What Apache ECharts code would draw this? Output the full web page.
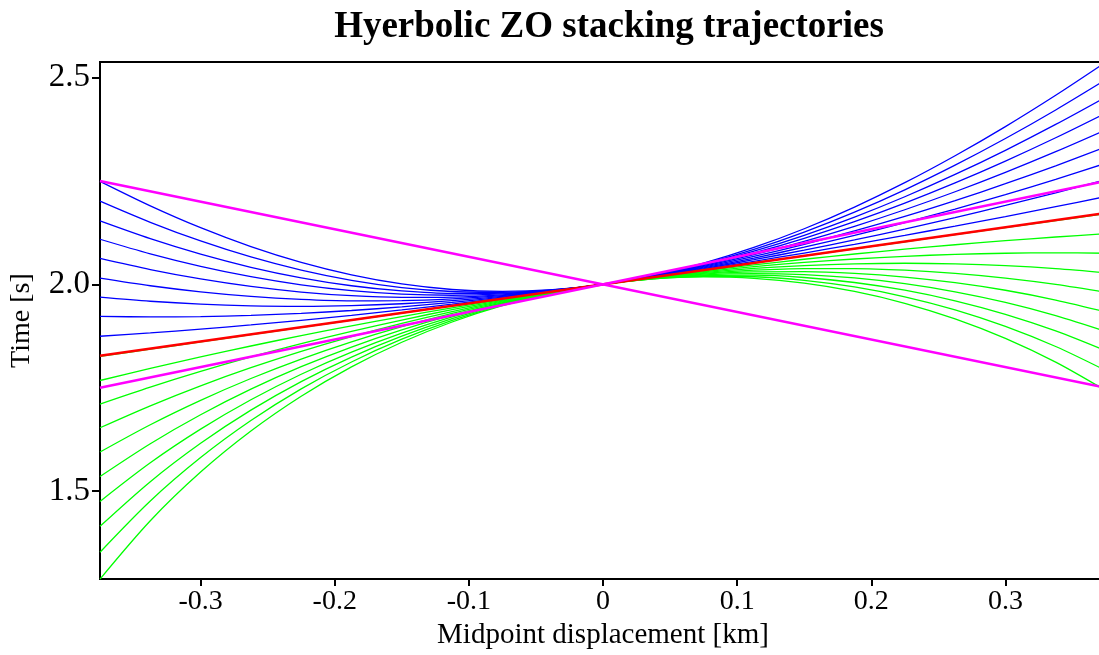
<!DOCTYPE html>
<html><head><meta charset="utf-8">
<script src="https://cdn.jsdelivr.net/npm/echarts@6/dist/echarts.min.js"></script>
<style>html,body{margin:0;padding:0;background:#fff;overflow:hidden}#c{width:1106px;height:655px}</style>
</head><body><div id="c"></div><script>
// midpoint displacement samples [km]
const xs = [-0.375, -0.3375, -0.3, -0.2625, -0.225, -0.1875, -0.15, -0.1125, -0.075, -0.0375, 0,
            0.0375, 0.075, 0.1125, 0.15, 0.1875, 0.225, 0.2625, 0.3, 0.3375, 0.375];

// blue trajectories (time [s] at each xs)
const blue1 = [1.8746, 1.8826, 1.8917, 1.9018, 1.9130, 1.9251, 1.9382, 1.9523, 1.9673, 1.9832, 2, 2.0177, 2.0362, 2.0556, 2.0757, 2.0967, 2.1184, 2.1408, 2.1639, 2.1878, 2.2123];
const blue2 = [1.9224, 1.9213, 1.9222, 1.9251, 1.9300, 1.9368, 1.9457, 1.9565, 1.9691, 1.9836, 2, 2.0181, 2.0380, 2.0595, 2.0827, 2.1075, 2.1337, 2.1615, 2.1906, 2.2211, 2.2529];
const blue3 = [1.9690, 1.9591, 1.9521, 1.9480, 1.9468, 1.9485, 1.9531, 1.9606, 1.9710, 1.9841, 2, 2.0186, 2.0398, 2.0635, 2.0897, 2.1182, 2.1490, 2.1819, 2.2169, 2.2539, 2.2928];
const blue4 = [2.0149, 1.9966, 1.9819, 1.9709, 1.9637, 1.9602, 1.9606, 1.9648, 1.9728, 1.9846, 2, 2.0190, 2.0416, 2.0675, 2.0967, 2.1290, 2.1642, 2.2024, 2.2432, 2.2865, 2.3323];
const blue5 = [2.0625, 2.0356, 2.0130, 1.9949, 1.9814, 1.9725, 1.9685, 1.9692, 1.9748, 1.9851, 2, 2.0195, 2.0435, 2.0717, 2.1040, 2.1403, 2.1803, 2.2238, 2.2707, 2.3207, 2.3736];
const blue6 = [2.1090, 2.0738, 2.0436, 2.0186, 1.9989, 1.9848, 1.9764, 1.9737, 1.9768, 1.9855, 2, 2.0200, 2.0454, 2.0759, 2.1114, 2.1516, 2.1963, 2.2451, 2.2979, 2.3543, 2.4141];
const blue7 = [2.1532, 2.1103, 2.0729, 2.0413, 2.0158, 1.9966, 1.9840, 1.9780, 1.9787, 1.9860, 2, 2.0205, 2.0472, 2.0800, 2.1185, 2.1625, 2.2117, 2.2656, 2.3240, 2.3865, 2.4528];
const blue8 = [2.2010, 2.1499, 2.1048, 2.0661, 2.0343, 2.0096, 1.9923, 1.9827, 1.9808, 1.9865, 2, 2.0210, 2.0493, 2.0845, 2.1264, 2.1745, 2.2285, 2.2880, 2.3524, 2.4215, 2.4949];
const blue9 = [2.2490, 2.1898, 2.1370, 2.0913, 2.0531, 2.0229, 2.0009, 1.9875, 1.9829, 1.9871, 2, 2.0215, 2.0513, 2.0891, 2.1344, 2.1868, 2.2457, 2.3108, 2.3813, 2.4570, 2.5374];

// green trajectories
const green1 = [1.8257, 1.8434, 1.8609, 1.8784, 1.8959, 1.9133, 1.9307, 1.9481, 1.9654, 1.9827, 2, 2.0172, 2.0344, 2.0516, 2.0688, 2.0859, 2.1030, 2.1200, 2.1370, 2.1541, 2.1710];
const green2 = [1.7676, 1.7969, 1.8246, 1.8510, 1.8760, 1.8996, 1.9221, 1.9433, 1.9633, 1.9822, 2, 2.0167, 2.0324, 2.0470, 2.0607, 2.0733, 2.0850, 2.0957, 2.1055, 2.1144, 2.1224];
const green3 = [1.7106, 1.7516, 1.7895, 1.8246, 1.8568, 1.8866, 1.9138, 1.9387, 1.9613, 1.9817, 2, 2.0162, 2.0304, 2.0427, 2.0530, 2.0613, 2.0678, 2.0724, 2.0752, 2.0761, 2.0752];
const green4 = [1.6534, 1.7065, 1.7548, 1.7985, 1.8381, 1.8737, 1.9057, 1.9342, 1.9593, 1.9812, 2, 2.0157, 2.0285, 2.0384, 2.0454, 2.0496, 2.0510, 2.0495, 2.0453, 2.0382, 2.0282];
const green5 = [1.5947, 1.6607, 1.7196, 1.7724, 1.8193, 1.8610, 1.8977, 1.9298, 1.9574, 1.9807, 2, 2.0153, 2.0267, 2.0342, 2.0380, 2.0380, 2.0342, 2.0266, 2.0152, 2.0000, 1.9807];
const green6 = [1.5356, 1.6149, 1.6849, 1.7466, 1.8009, 1.8485, 1.8899, 1.9254, 1.9555, 1.9803, 2, 2.0148, 2.0248, 2.0301, 2.0307, 2.0266, 2.0177, 2.0041, 1.9857, 1.9621, 1.9334];
const green7 = [1.4754, 1.5688, 1.6501, 1.7210, 1.7827, 1.8362, 1.8822, 1.9212, 1.9536, 1.9798, 2, 2.0144, 2.0231, 2.0261, 2.0235, 2.0154, 2.0015, 1.9818, 1.9562, 1.9243, 1.8859];
const green8 = [1.4151, 1.5231, 1.6159, 1.6960, 1.7650, 1.8243, 1.8748, 1.9171, 1.9518, 1.9794, 2, 2.0139, 2.0213, 2.0222, 2.0166, 2.0045, 1.9858, 1.9602, 1.9275, 1.8873, 1.8391];
const green9 = [1.3526, 1.4764, 1.5813, 1.6708, 1.7473, 1.8124, 1.8674, 1.9131, 1.9500, 1.9789, 2, 2.0135, 2.0196, 2.0184, 2.0098, 1.9937, 1.9700, 1.9384, 1.8985, 1.8498, 1.7915];
const green10 = [1.2876, 1.4286, 1.5462, 1.6454, 1.7295, 1.8005, 1.8600, 1.9090, 1.9483, 1.9785, 2, 2.0131, 2.0179, 2.0145, 2.0029, 1.9829, 1.9543, 1.9166, 1.8694, 1.8119, 1.7429];

// red (straight) trajectory and magenta straight limits, end points
const lineX = [-0.375, 0.375];
const redLine = [1.8275, 2.1725];
const magentaRise = [1.75, 2.25];
const magentaFall = [2.25, 1.75];

// axes
const xMin = -0.375, xMax = 0.375;
const yMin = 1.2876, yMax = 2.5374;
const xTicks = [-0.3, -0.2, -0.1, 0, 0.1, 0.2, 0.3];
const xTickLabels = ['-0.3', '-0.2', '-0.1', '0', '0.1', '0.2', '0.3'];
const yTicks = [1.5, 2.0, 2.5];
const yTickLabels = ['1.5', '2.0', '2.5'];

const blueCurves = [blue1, blue2, blue3, blue4, blue5, blue6, blue7, blue8, blue9];
const greenCurves = [green1, green2, green3, green4, green5, green6, green7, green8, green9, green10];

const FONT = 'Liberation Serif';
const pairs = (xv, yv) => xv.map((x, i) => [x, yv[i]]);
const labelFor = (ticks, labels) => v => {
  let best = 0;
  ticks.forEach((t, i) => { if (Math.abs(t - v) < Math.abs(ticks[best] - v)) best = i; });
  return labels[best];
};

const series = [];
blueCurves.forEach((c, i) => series.push({
  type: 'line', name: 'blue' + (i + 1), data: pairs(xs, c), smooth: 0.3, showSymbol: false, symbol: 'none',
  lineStyle: { color: '#0000ff', width: 1.3 }, z: 2
}));
greenCurves.forEach((c, i) => series.push({
  type: 'line', name: 'green' + (i + 1), data: pairs(xs, c), smooth: 0.3, showSymbol: false, symbol: 'none',
  lineStyle: { color: '#00ff00', width: 1.3 }, z: 2
}));
series.push({
  type: 'line', name: 'red', data: pairs(lineX, redLine), showSymbol: false, symbol: 'none',
  lineStyle: { color: '#ff0000', width: 2.6 }, z: 3
});
series.push({
  type: 'line', name: 'magenta1', data: pairs(lineX, magentaRise), showSymbol: false, symbol: 'none',
  lineStyle: { color: '#ff00ff', width: 2.6 }, z: 4
});
series.push({
  type: 'line', name: 'magenta2', data: pairs(lineX, magentaFall), showSymbol: false, symbol: 'none',
  lineStyle: { color: '#ff00ff', width: 2.6 }, z: 4
});

const chart = echarts.init(document.getElementById('c'), null, { renderer: 'canvas' });
chart.setOption({
  animation: false,
  backgroundColor: '#fff',
  title: {
    text: 'Hyerbolic ZO stacking trajectories',
    left: 604, top: 4, textAlign: 'center',
    textStyle: { fontFamily: FONT, fontWeight: 'bold', fontSize: 37, color: '#000' }
  },
  grid: { left: 100, top: 62, right: 0, bottom: 75, show: true, borderColor: '#000', borderWidth: 2, backgroundColor: 'transparent' },
  xAxis: {
    type: 'value', min: xMin, max: xMax,
    name: 'Midpoint displacement [km]', nameLocation: 'middle', nameGap: 38,
    nameTextStyle: { fontFamily: FONT, fontSize: 29, color: '#000' },
    axisLine: { show: true, onZero: false, lineStyle: { color: '#000', width: 2 } },
    axisTick: { show: true, customValues: xTicks, length: 7, lineStyle: { color: '#000', width: 2 } },
    axisLabel: { customValues: xTicks, formatter: labelFor(xTicks, xTickLabels), fontFamily: FONT, fontSize: 28, color: '#000', margin: 9 },
    splitLine: { show: false }
  },
  yAxis: {
    type: 'value', min: yMin, max: yMax,
    name: 'Time [s]', nameLocation: 'middle', nameGap: 64, nameRotate: 90,
    nameTextStyle: { fontFamily: FONT, fontSize: 28, color: '#000' },
    axisLine: { show: true, onZero: false, lineStyle: { color: '#000', width: 2 } },
    axisTick: { show: true, customValues: yTicks, length: 8, lineStyle: { color: '#000', width: 2 } },
    axisLabel: { customValues: yTicks, formatter: labelFor(yTicks, yTickLabels), fontFamily: FONT, fontSize: 33, color: '#000', margin: 10 },
    splitLine: { show: false }
  },
  series: series
});
</script></body></html>
